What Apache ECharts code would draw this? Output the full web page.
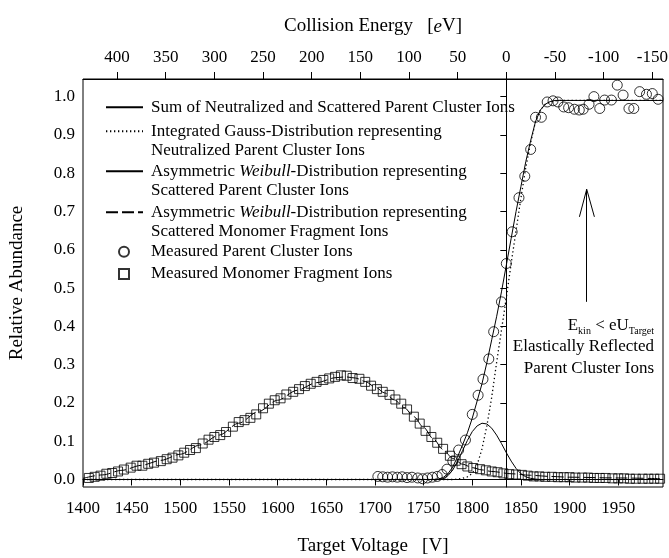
<!DOCTYPE html>
<html>
<head>
<meta charset="utf-8">
<script src="https://cdn.jsdelivr.net/npm/echarts@6/dist/echarts.min.js"></script>
<style>
html, body { margin: 0; padding: 0; background: #fff; }
#chart { width: 669px; height: 558px; }
</style>
</head>
<body>
<div id="chart"></div>
<script>
// axis ticks
var voltageTicks = [1400, 1450, 1500, 1550, 1600, 1650, 1700, 1750, 1800, 1850, 1900, 1950];
var energyTicks = [400, 350, 300, 250, 200, 150, 100, 50, 0, -50, -100, -150];
var abundanceTicks = [0, 0.1, 0.2, 0.3, 0.4, 0.5, 0.6, 0.7, 0.8, 0.9, 1.0];
var energyZeroVoltage = 1835;   // collision energy = eU0 - eU

// measured parent cluster ions (circles)
var parentVoltage = [1703, 1708, 1713, 1718, 1723, 1728, 1733, 1738, 1744, 1749,
    1754, 1759, 1764, 1769, 1774, 1780, 1786, 1793, 1800, 1806,
    1811, 1817, 1822, 1830, 1835, 1841, 1848, 1854, 1860, 1865,
    1871, 1877, 1883, 1888, 1894, 1899, 1905, 1910, 1914, 1920,
    1925, 1931, 1936, 1943, 1949, 1955, 1961, 1966, 1972, 1979,
    1985, 1991];
var parentValue = [0.008, 0.007, 0.006, 0.007, 0.006, 0.007, 0.005, 0.006, 0.004, 0.002,
    0.004, 0.006, 0.008, 0.013, 0.027, 0.048, 0.077, 0.103, 0.170, 0.220,
    0.262, 0.315, 0.386, 0.464, 0.564, 0.647, 0.736, 0.792, 0.862, 0.946,
    0.946, 0.986, 0.989, 0.986, 0.973, 0.971, 0.967, 0.965, 0.967, 0.980,
    1.000, 0.969, 0.991, 0.991, 1.030, 1.004, 0.969, 0.969, 1.013, 1.006,
    1.008, 0.993];

// measured monomer fragment ions (squares)
var monomerVoltage = [1406, 1412, 1418, 1424, 1430, 1436, 1442, 1449, 1455, 1461,
    1467, 1473, 1480, 1486, 1492, 1498, 1504, 1510, 1516, 1523,
    1529, 1535, 1541, 1547, 1554, 1560, 1566, 1572, 1578, 1585,
    1591, 1597, 1603, 1609, 1616, 1622, 1628, 1634, 1640, 1647,
    1653, 1659, 1665, 1671, 1677, 1684, 1690, 1696, 1702, 1708,
    1715, 1721, 1727, 1733, 1740, 1746, 1752, 1758, 1764, 1770,
    1777, 1783, 1789, 1795, 1801, 1808, 1814, 1820, 1826, 1832,
    1838, 1845, 1851, 1857, 1863, 1869, 1875, 1882, 1888, 1894,
    1900, 1906, 1913, 1919, 1925, 1931, 1937, 1944, 1950, 1956,
    1962, 1968, 1975, 1981, 1987, 1993];
var monomerValue = [0.004, 0.007, 0.010, 0.015, 0.017, 0.021, 0.026, 0.031, 0.036, 0.036,
    0.041, 0.044, 0.048, 0.053, 0.057, 0.063, 0.070, 0.077, 0.082, 0.094,
    0.104, 0.111, 0.116, 0.124, 0.138, 0.150, 0.155, 0.161, 0.170, 0.186,
    0.198, 0.207, 0.212, 0.222, 0.229, 0.236, 0.244, 0.250, 0.255, 0.260,
    0.264, 0.268, 0.272, 0.271, 0.265, 0.263, 0.255, 0.245, 0.236, 0.229,
    0.221, 0.209, 0.198, 0.183, 0.164, 0.146, 0.127, 0.111, 0.096, 0.080,
    0.062, 0.049, 0.040, 0.034, 0.030, 0.027, 0.024, 0.021, 0.019, 0.016,
    0.014, 0.013, 0.012, 0.010, 0.008, 0.008, 0.007, 0.007, 0.006, 0.006,
    0.006, 0.005, 0.005, 0.005, 0.004, 0.004, 0.004, 0.003, 0.003, 0.003,
    0.002, 0.002, 0.002, 0.002, 0.002, 0.002];

// fitted curves for the parent ions
var fitVoltage = [1400, 1760, 1765, 1770, 1775, 1780, 1785, 1790, 1795, 1800,
    1805, 1810, 1815, 1820, 1825, 1830, 1835, 1840, 1845, 1850,
    1855, 1860, 1865, 1870, 1875, 1880, 1885, 1890, 1996];
var sumValue = [0, 0, 0.001, 0.005, 0.015, 0.033, 0.060, 0.090, 0.122, 0.160,
    0.205, 0.250, 0.305, 0.365, 0.425, 0.490, 0.560, 0.630, 0.700, 0.765,
    0.830, 0.885, 0.935, 0.965, 0.980, 0.987, 0.990, 0.990, 0.990];
var gaussValue = [0, 0, 0, 0, 0, 0, 0.001, 0.003, 0.007, 0.016,
    0.038, 0.080, 0.140, 0.215, 0.305, 0.390, 0.475, 0.565, 0.650, 0.735,
    0.815, 0.880, 0.935, 0.965, 0.980, 0.986, 0.989, 0.990, 0.990];
var weibullParentValue = [0, 0, 0, 0.002, 0.010, 0.025, 0.048, 0.075, 0.102, 0.125,
    0.140, 0.147, 0.145, 0.134, 0.116, 0.094, 0.070, 0.048, 0.029, 0.015,
    0.007, 0.003, 0.001, 0, 0, 0, 0, 0, 0];

// fitted curve for the monomer fragments
var weibullMonomerVoltage = [1400, 1420, 1440, 1460, 1480, 1500, 1520, 1540, 1560, 1580,
    1600, 1620, 1640, 1660, 1670, 1680, 1690, 1700, 1710, 1720,
    1730, 1740, 1750, 1760, 1770, 1780, 1790, 1800, 1810, 1820,
    1840, 1860, 1880, 1900, 1950, 1996];
var weibullMonomerValue = [0.003, 0.012, 0.024, 0.037, 0.050, 0.066, 0.090, 0.116, 0.147, 0.177,
    0.207, 0.233, 0.253, 0.266, 0.268, 0.265, 0.256, 0.242, 0.226, 0.208,
    0.188, 0.164, 0.136, 0.106, 0.078, 0.055, 0.040, 0.031, 0.025, 0.021,
    0.015, 0.011, 0.008, 0.006, 0.004, 0.002];

// legend text, one rich string per line
var legendLines = {
    sum: ['{t|Sum of Neutralized and Scattered Parent Cluster Ions}'],
    gauss: ['{t|Integrated Gauss-Distribution representing}', '{t|Neutralized Parent Cluster Ions}'],
    weibullParent: ['{t|Asymmetric }{it|Weibull}{t|-Distribution representing}', '{t|Scattered Parent Cluster Ions}'],
    weibullMonomer: ['{t|Asymmetric }{it|Weibull}{t|-Distribution representing}', '{t|Scattered Monomer Fragment Ions}'],
    parent: ['{t|Measured Parent Cluster Ions}'],
    monomer: ['{t|Measured Monomer Fragment Ions}']
};

var FONT = 'Liberation Serif';

function pairs(xs, ys) {
    return xs.map(function (x, i) { return [x, ys[i]]; });
}

function legendFor(name, top, isMarker) {
    var lines = legendLines[name];
    return {
        data: [name],
        left: isMarker ? 118 : 105,
        top: top,
        padding: 0,
        itemWidth: isMarker ? 10 : 37,
        itemHeight: 10,
        selectedMode: false,
        // lines legends: hide the dot ECharts puts in the middle of the icon
        itemStyle: isMarker ? {} : { opacity: 0 },
        formatter: function () {
            var text = lines.join('\n');
            // keep the icon on the first line of two-line entries
            if (lines.length > 1) {
                text = '{t|\u00a0}\n' + text;
            }
            return text;
        },
        textStyle: {
            padding: [0, 0, 0, isMarker ? 17 : 3],
            rich: {
                t: { fontFamily: FONT, fontSize: 17, lineHeight: 19.5, color: '#000' },
                it: { fontFamily: FONT, fontSize: 17, lineHeight: 19.5, color: '#000', fontStyle: 'italic' }
            }
        }
    };
}

var lineBase = { type: 'line', symbol: 'none', showSymbol: false, silent: true, xAxisIndex: 0, yAxisIndex: 0 };

var chart = echarts.init(document.getElementById('chart'));
chart.setOption({
    animation: false,
    backgroundColor: '#fff',
    textStyle: { fontFamily: FONT, color: '#000' },
    grid: {
        left: 83, right: 6, top: 79, bottom: 71,
        outerBoundsMode: 'none', containLabel: false,
        show: true, borderColor: '#000', borderWidth: 1
    },
    legend: [
        legendFor('sum', 98.8, false),
        legendFor('gauss', 103.2, false),
        legendFor('weibullParent', 143.2, false),
        legendFor('weibullMonomer', 184.2, false),
        legendFor('parent', 243.2, true),
        legendFor('monomer', 265.5, true)
    ],
    xAxis: [{
        type: 'value',
        position: 'bottom',
        min: 1400,
        max: 1996,
        name: 'Target Voltage   [V]',
        nameLocation: 'middle',
        nameGap: 50,
        nameTextStyle: { fontFamily: FONT, fontSize: 19, color: '#000' },
        axisLine: { lineStyle: { color: '#000', width: 1 } },
        axisTick: { length: 6, lineStyle: { color: '#000' }, customValues: voltageTicks },
        axisLabel: {
            fontFamily: FONT, fontSize: 17, color: '#000', margin: 13, customValues: voltageTicks,
            formatter: function (v) { return String(v); }
        },
        splitLine: { show: false }
    }, {
        type: 'value',
        position: 'top',
        inverse: true,
        min: energyZeroVoltage - 1996,
        max: energyZeroVoltage - 1400,
        name: 'Collision Energy   [{i|e}V]',
        nameLocation: 'middle',
        nameGap: 43,
        nameTextStyle: {
            fontFamily: FONT, fontSize: 19, color: '#000',
            rich: { i: { fontFamily: FONT, fontSize: 19, fontStyle: 'italic', color: '#000' } }
        },
        axisLine: { lineStyle: { color: '#000', width: 1 } },
        axisTick: { length: 7, lineStyle: { color: '#000' }, customValues: energyTicks },
        axisLabel: {
            fontFamily: FONT, fontSize: 17, color: '#000', margin: 13, customValues: energyTicks,
            formatter: function (v) { return String(v); }
        },
        splitLine: { show: false }
    }],
    yAxis: [{
        type: 'value',
        min: -0.0196,
        max: 1.046,
        name: 'Relative Abundance',
        nameLocation: 'middle',
        nameGap: 56,
        nameTextStyle: { fontFamily: FONT, fontSize: 19, color: '#000' },
        axisLine: { show: true, lineStyle: { color: '#000', width: 1 } },
        axisTick: { show: true, length: 6, lineStyle: { color: '#000' }, customValues: abundanceTicks },
        axisLabel: {
            fontFamily: FONT, fontSize: 17, color: '#000', margin: 8, customValues: abundanceTicks,
            formatter: function (v) { return v.toFixed(1); }
        },
        splitLine: { show: false }
    }],
    graphic: [{
        type: 'text',
        right: 15,
        top: 317,
        silent: true,
        style: {
            text: '{m|E}{s|kin}{m| < eU}{s|Target}\n{m|Elastically Reflected}\n{m|Parent Cluster Ions}',
            align: 'right',
            rich: {
                m: { fontFamily: FONT, fontSize: 17, lineHeight: 21.5, fill: '#000', align: 'right' },
                s: { fontFamily: FONT, fontSize: 10, verticalAlign: 'bottom', fill: '#000', align: 'right' }
            }
        }
    }],
    series: [
        echarts.util.extend({
            name: 'sum', data: pairs(fitVoltage, sumValue),
            lineStyle: { color: '#000', width: 1 }, itemStyle: { color: '#000' }, z: 3
        }, lineBase),
        echarts.util.extend({
            name: 'gauss', data: pairs(fitVoltage, gaussValue),
            lineStyle: { color: '#000', width: 1.3, type: [1.3, 2.7] }, itemStyle: { color: '#000' }, z: 3
        }, lineBase),
        echarts.util.extend({
            name: 'weibullParent', data: pairs(fitVoltage, weibullParentValue),
            lineStyle: { color: '#000', width: 1 }, itemStyle: { color: '#000' }, z: 3
        }, lineBase),
        echarts.util.extend({
            name: 'weibullMonomer', data: pairs(weibullMonomerVoltage, weibullMonomerValue),
            smooth: 0.3, smoothMonotone: 'x',
            lineStyle: { color: '#000', width: 1, type: [12, 4] }, itemStyle: { color: '#000' }, z: 3
        }, lineBase),
        {
            name: 'parent',
            type: 'scatter',
            symbol: 'circle',
            symbolSize: 10,
            silent: true,
            data: pairs(parentVoltage, parentValue),
            itemStyle: { color: 'rgba(0,0,0,0)', borderColor: '#000', borderWidth: 1 },
            z: 4,
            markLine: {
                silent: true,
                symbol: ['none', 'none'],
                label: { show: false },
                lineStyle: { color: '#000', width: 1, type: 'solid' },
                data: [
                    [{ coord: [1917.6, 0.464] }, { coord: [1917.6, 0.758] }],
                    [{ coord: [1917.6, 0.758] }, { coord: [1910.1, 0.686] }],
                    [{ coord: [1917.6, 0.758] }, { coord: [1925.5, 0.686] }]
                ]
            }
        },
        {
            name: 'monomer',
            type: 'scatter',
            symbol: 'rect',
            symbolSize: 9,
            silent: true,
            data: pairs(monomerVoltage, monomerValue),
            itemStyle: { color: 'rgba(0,0,0,0)', borderColor: '#000', borderWidth: 1 },
            z: 4
        }
    ]
});
</script>
</body>
</html>
